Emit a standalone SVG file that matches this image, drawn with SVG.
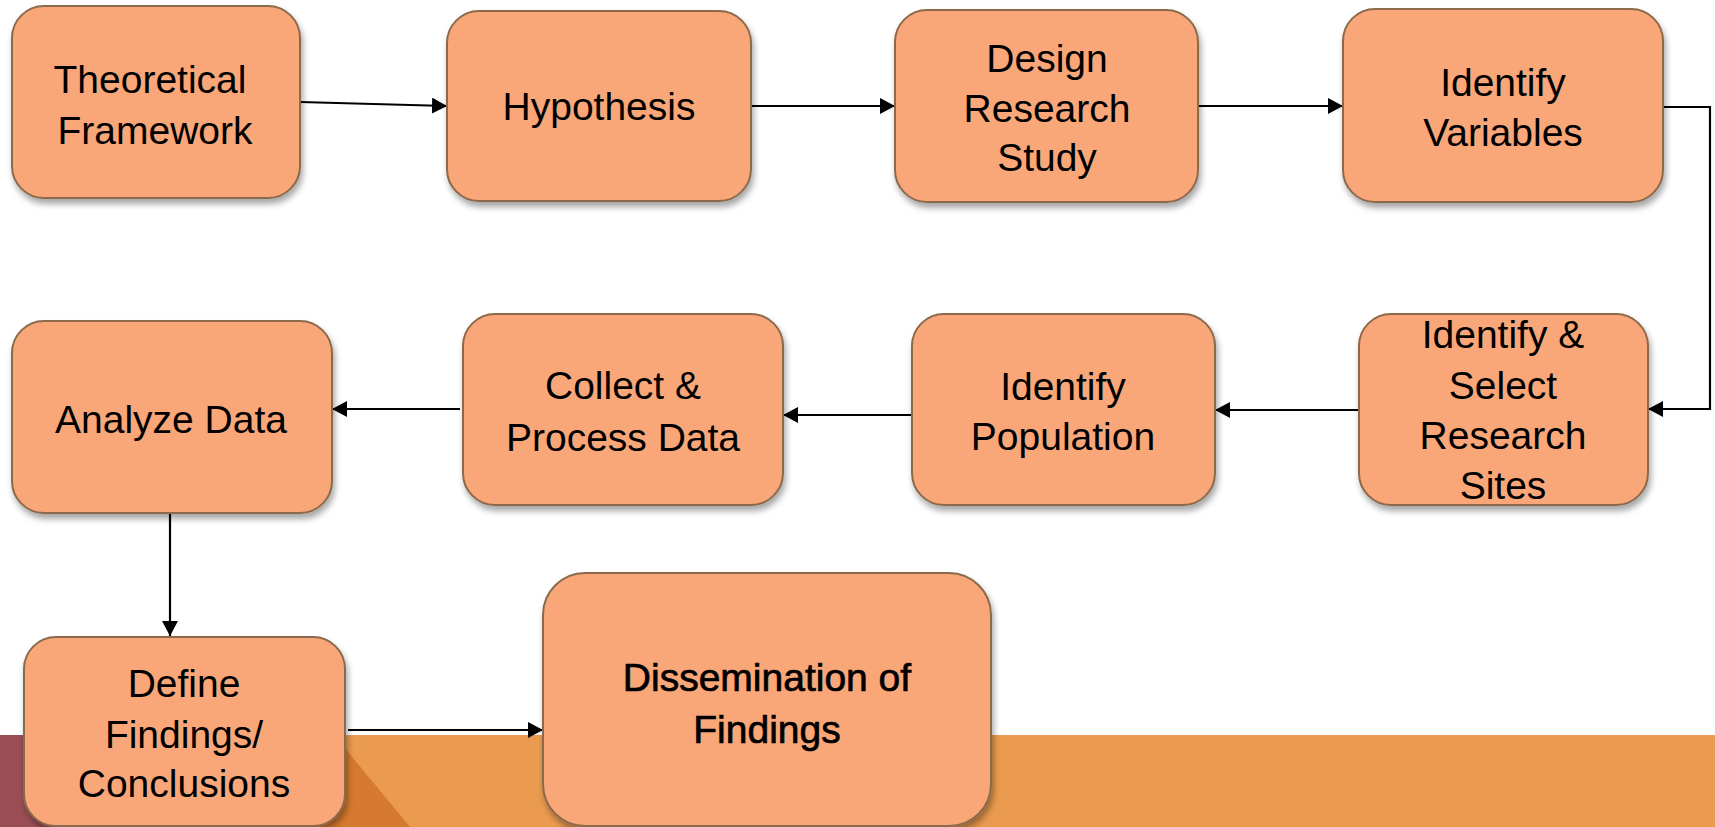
<svg xmlns="http://www.w3.org/2000/svg" width="1715" height="827" viewBox="0 0 1715 827">
<defs>
<style>
.box{fill:#F9A679;stroke:#8B6B4C;stroke-width:2;filter:url(#sh)}
.t{font-family:"Liberation Sans",Arial,sans-serif;font-size:39px;fill:#000;text-anchor:middle}
.b{stroke:#000;stroke-width:0.7}
.c{fill:none;stroke:#000;stroke-width:2.2;marker-end:url(#ah)}
</style>
<filter id="sh" x="-10%" y="-10%" width="130%" height="130%">
<feDropShadow dx="2" dy="5" stdDeviation="3" flood-color="#000" flood-opacity="0.35"/>
</filter>
<marker id="ah" viewBox="0 0 10 10" refX="10" refY="5" markerUnits="userSpaceOnUse" markerWidth="15" markerHeight="16" orient="auto" preserveAspectRatio="none">
<path d="M0,0 L10,5 L0,10 z" fill="#000"/>
</marker>
</defs>
<rect width="1715" height="827" fill="#fff"/>
<g id="band">
<rect x="0" y="735" width="1715" height="92" fill="#EA9B4F"/>
<rect x="0" y="735" width="120" height="92" fill="#9A4E54"/>
<polygon points="120,735 334,735 410,827 120,827" fill="#D67A2F"/>
</g>
<g id="connectors">
<line class="c" x1="300" y1="102" x2="447" y2="106"/>
<line class="c" x1="751" y1="106" x2="895" y2="106"/>
<line class="c" x1="1198" y1="106" x2="1343" y2="106"/>
<polyline class="c" points="1663,107 1710,107 1710,409 1648,409"/>
<line class="c" x1="1359" y1="410" x2="1215" y2="410"/>
<line class="c" x1="912" y1="415" x2="783" y2="415"/>
<line class="c" x1="460" y1="409" x2="332" y2="409"/>
<line class="c" x1="170" y1="513" x2="170" y2="636"/>
<line class="c" x1="348" y1="730" x2="543" y2="730"/>
</g>
<g id="n1"><rect class="box" x="12" y="6" width="288" height="192" rx="32"/>
<text class="t"><tspan x="150" y="93">Theoretical</tspan><tspan x="155" y="144">Framework</tspan></text></g>
<g id="n2"><rect class="box" x="447" y="11" width="304" height="190" rx="32"/>
<text class="t" x="599" y="120">Hypothesis</text></g>
<g id="n3"><rect class="box" x="895" y="10" width="303" height="192" rx="32"/>
<text class="t"><tspan x="1047" y="72">Design</tspan><tspan x="1047" y="122">Research</tspan><tspan x="1047" y="171">Study</tspan></text></g>
<g id="n4"><rect class="box" x="1343" y="9" width="320" height="193" rx="32"/>
<text class="t"><tspan x="1503" y="96">Identify</tspan><tspan x="1503" y="146">Variables</tspan></text></g>
<g id="n5"><rect class="box" x="1359" y="314" width="289" height="191" rx="32"/>
<text class="t"><tspan x="1503" y="348">Identify &amp;</tspan><tspan x="1503" y="399">Select</tspan><tspan x="1503" y="449">Research</tspan><tspan x="1503" y="499">Sites</tspan></text></g>
<g id="n6"><rect class="box" x="912" y="314" width="303" height="191" rx="32"/>
<text class="t"><tspan x="1063" y="400">Identify</tspan><tspan x="1063" y="450">Population</tspan></text></g>
<g id="n7"><rect class="box" x="463" y="314" width="320" height="191" rx="32"/>
<text class="t"><tspan x="623" y="399">Collect &amp;</tspan><tspan x="623" y="451">Process Data</tspan></text></g>
<g id="n8"><rect class="box" x="12" y="321" width="320" height="192" rx="32"/>
<text class="t" x="171" y="433">Analyze Data</text></g>
<g id="n9"><rect class="box" x="24" y="637" width="321" height="189" rx="32"/>
<text class="t"><tspan x="184" y="697">Define</tspan><tspan x="184" y="748">Findings/</tspan><tspan x="184" y="797">Conclusions</tspan></text></g>
<g id="n10"><rect class="box" x="543" y="573" width="448" height="253" rx="42"/>
<text class="t b"><tspan x="767" y="691">Dissemination of</tspan><tspan x="767" y="743">Findings</tspan></text></g>
</svg>
